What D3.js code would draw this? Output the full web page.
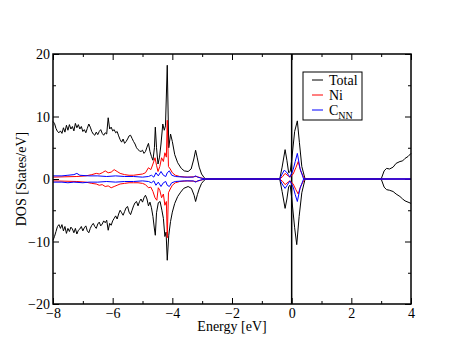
<!DOCTYPE html>
<html>
<head>
<meta charset="utf-8">
<script src="https://cdn.jsdelivr.net/npm/d3@7"></script>
<style>
  body { margin: 0; background: #fff; }
  svg text { font-family: "Liberation Serif", "Times New Roman", serif; }
</style>
</head>
<body>
<svg id="chart" width="463" height="358"></svg>
<script>
// energy [eV], DOS [States/eV]
const totalUp = [[-8.00,9.2],[-7.95,8.9],[-7.9,8.1],[-7.85,7.6],[-7.8,7.4],[-7.75,7.7],[-7.7,7.3],[-7.65,8.2],[-7.6,7.5],[-7.55,8.6],[-7.5,7.8],[-7.45,8.7],[-7.4,8.0],[-7.35,8.4],[-7.3,7.7],[-7.25,8.9],[-7.2,8.2],[-7.15,8.7],[-7.1,8.0],[-7.05,8.4],[-7.0,7.6],[-6.95,7.9],[-6.9,7.4],[-6.85,8.1],[-6.8,8.8],[-6.75,8.3],[-6.7,7.6],[-6.65,7.2],[-6.6,7.0],[-6.55,7.5],[-6.5,7.1],[-6.45,7.6],[-6.4,7.9],[-6.35,7.3],[-6.3,7.0],[-6.25,7.4],[-6.2,7.2],[-6.15,9.8],[-6.1,8.0],[-6.05,8.3],[-6.0,7.7],[-5.95,7.9],[-5.9,7.4],[-5.85,7.6],[-5.8,6.9],[-5.75,6.3],[-5.7,5.9],[-5.65,6.4],[-5.6,5.7],[-5.55,6.0],[-5.5,6.4],[-5.45,6.9],[-5.4,7.0],[-5.35,6.5],[-5.3,6.0],[-5.25,5.6],[-5.2,5.0],[-5.15,4.7],[-5.1,4.5],[-5.05,4.4],[-5.0,4.6],[-4.95,4.1],[-4.9,4.4],[-4.85,5.1],[-4.8,5.7],[-4.75,4.4],[-4.7,3.6],[-4.65,3.0],[-4.6,5.0],[-4.57,8.3],[-4.53,5.0],[-4.48,2.4],[-4.43,3.5],[-4.38,5.6],[-4.32,8.8],[-4.27,7.8],[-4.23,8.5],[-4.17,18.2],[-4.12,5.0],[-4.06,7.2],[-4.0,6.0],[-3.92,3.9],[-3.82,2.6],[-3.7,1.7],[-3.6,1.3],[-3.47,1.2],[-3.37,1.6],[-3.28,3.2],[-3.22,4.6],[-3.17,3.5],[-3.1,1.9],[-3.02,0.8],[-2.93,0.2],[-2.88,0],[-0.4,0],[-0.32,1.9],[-0.22,4.7],[-0.16,3.0],[-0.1,1.0],[-0.05,1.2],[0.0,3.0],[0.1,7.6],[0.19,9.3],[0.26,5.8],[0.34,2.0],[0.45,0],[3.0,0],[3.1,1.3],[3.18,1.7],[3.28,1.6],[3.4,1.9],[3.5,2.5],[3.63,2.8],[3.72,2.9],[3.8,3.3],[3.9,3.6],[4.0,4.1]];

const totalDown = [[-8,-9.8],[-7.95,-9.2],[-7.9,-8.4],[-7.85,-7.6],[-7.8,-7.3],[-7.75,-7.9],[-7.7,-7.3],[-7.65,-8.3],[-7.6,-7.6],[-7.55,-8.7],[-7.5,-7.9],[-7.45,-8.4],[-7.4,-7.7],[-7.35,-8.0],[-7.3,-8.6],[-7.25,-7.9],[-7.2,-8.8],[-7.15,-8.2],[-7.1,-8.0],[-7.05,-7.6],[-7.0,-8.3],[-6.95,-7.8],[-6.9,-7.5],[-6.85,-8.3],[-6.8,-8.6],[-6.75,-7.9],[-6.7,-7.4],[-6.65,-7.1],[-6.6,-7.6],[-6.55,-7.9],[-6.5,-7.2],[-6.45,-6.9],[-6.4,-7.5],[-6.35,-7.2],[-6.3,-6.7],[-6.25,-7.0],[-6.2,-6.6],[-6.15,-8.2],[-6.1,-7.1],[-6.05,-7.4],[-6.0,-6.7],[-5.95,-6.3],[-5.9,-5.9],[-5.85,-6.4],[-5.8,-5.6],[-5.75,-5.0],[-5.7,-5.4],[-5.65,-5.8],[-5.6,-5.2],[-5.55,-4.6],[-5.5,-4.4],[-5.45,-5.3],[-5.4,-5.7],[-5.35,-5.0],[-5.3,-4.3],[-5.25,-3.8],[-5.2,-3.6],[-5.15,-4.3],[-5.1,-3.6],[-5.05,-3.2],[-5.0,-3.7],[-4.95,-3.0],[-4.9,-2.6],[-4.85,-3.2],[-4.8,-4.3],[-4.75,-3.7],[-4.7,-4.6],[-4.65,-6.0],[-4.6,-8.0],[-4.57,-9.0],[-4.53,-5.4],[-4.47,-3.8],[-4.41,-3.6],[-4.35,-5.0],[-4.3,-6.3],[-4.25,-9.2],[-4.21,-8.5],[-4.17,-13.0],[-4.12,-9.0],[-4.06,-6.8],[-4.0,-5.3],[-3.92,-3.9],[-3.82,-2.8],[-3.72,-2.1],[-3.62,-1.5],[-3.47,-1.2],[-3.36,-1.5],[-3.27,-2.6],[-3.22,-3.6],[-3.16,-2.5],[-3.1,-1.6],[-3.02,-0.7],[-2.93,-0.2],[-2.88,0],[-0.4,0],[-0.32,-2.0],[-0.22,-4.7],[-0.16,-3.2],[-0.1,-1.2],[-0.05,-1.0],[0.0,-3.0],[0.1,-7.8],[0.17,-10.5],[0.25,-6.0],[0.34,-2.2],[0.45,0],[3.0,0],[3.1,-1.3],[3.18,-1.7],[3.28,-1.8],[3.4,-2.0],[3.5,-2.4],[3.63,-2.8],[3.72,-3.2],[3.8,-3.5],[3.9,-3.7],[4.0,-3.9]];

const niUp = [[-8,0.3],[-7.6,0.35],[-7.2,0.4],[-6.9,0.5],[-6.7,0.7],[-6.55,0.9],[-6.45,0.8],[-6.35,1.0],[-6.25,1.3],[-6.15,1.0],[-6.05,1.1],[-5.95,1.5],[-5.85,1.2],[-5.75,0.9],[-5.6,0.7],[-5.45,0.6],[-5.3,0.6],[-5.15,0.7],[-5.0,0.8],[-4.9,1.0],[-4.8,1.8],[-4.72,1.5],[-4.65,2.4],[-4.58,3.4],[-4.53,2.2],[-4.48,1.2],[-4.42,2.0],[-4.36,3.4],[-4.3,2.8],[-4.25,4.2],[-4.2,3.5],[-4.17,9.4],[-4.13,2.0],[-4.07,1.6],[-4.0,1.0],[-3.9,0.6],[-3.75,0.4],[-3.5,0.3],[-3.3,0.35],[-3.2,0.4],[-3.05,0.2],[-2.9,0],[-0.4,0],[-0.3,0.4],[-0.22,0.9],[-0.12,0.5],[-0.05,0.3],[0.05,0.8],[0.14,1.8],[0.22,2.8],[0.3,1.3],[0.4,0.3],[0.45,0],[4,0]];

const niDown = [[-8,-0.3],[-7.6,-0.35],[-7.2,-0.4],[-6.9,-0.5],[-6.7,-0.7],[-6.55,-0.8],[-6.45,-1.0],[-6.35,-0.9],[-6.25,-1.2],[-6.15,-1.1],[-6.05,-1.4],[-5.95,-1.2],[-5.85,-1.0],[-5.75,-0.8],[-5.6,-0.7],[-5.45,-0.6],[-5.3,-0.6],[-5.15,-0.6],[-5.0,-0.7],[-4.9,-0.9],[-4.8,-1.4],[-4.72,-1.3],[-4.65,-2.0],[-4.58,-3.0],[-4.52,-3.4],[-4.47,-1.4],[-4.42,-1.8],[-4.36,-3.0],[-4.3,-2.4],[-4.25,-4.2],[-4.2,-3.6],[-4.17,-9.4],[-4.13,-2.2],[-4.07,-1.6],[-4.0,-1.0],[-3.9,-0.6],[-3.75,-0.4],[-3.5,-0.3],[-3.3,-0.35],[-3.2,-0.4],[-3.05,-0.2],[-2.9,0],[-0.4,0],[-0.3,-0.4],[-0.22,-0.9],[-0.12,-0.5],[-0.05,-0.3],[0.05,-0.8],[0.14,-1.7],[0.22,-2.4],[0.3,-1.2],[0.4,-0.3],[0.45,0],[4,0]];

const cUp = [[-8,0.5],[-7.7,0.5],[-7.5,0.6],[-7.3,0.7],[-7.2,0.9],[-7.1,0.6],[-6.8,0.5],[-6.5,0.5],[-6.2,0.4],[-5.9,0.5],[-5.6,0.4],[-5.3,0.4],[-5.0,0.3],[-4.8,0.4],[-4.7,0.6],[-4.62,0.3],[-4.55,1.0],[-4.47,0.5],[-4.38,1.2],[-4.3,0.6],[-4.22,0.4],[-4.17,1.0],[-4.1,1.3],[-4.02,0.6],[-3.9,0.4],[-3.6,0.3],[-3.3,0.3],[-3.22,0.5],[-3.15,0.3],[-3.0,0.1],[-2.9,0],[-0.4,0],[-0.32,0.8],[-0.25,1.4],[-0.17,1.1],[-0.06,0.3],[0.05,1.5],[0.12,2.8],[0.19,4.1],[0.28,1.7],[0.4,0],[4,0]];

const cDown = [[-8,-0.5],[-7.7,-0.5],[-7.5,-0.6],[-7.3,-0.5],[-7.0,-0.6],[-6.8,-0.5],[-6.5,-0.5],[-6.2,-0.4],[-5.9,-0.5],[-5.6,-0.4],[-5.3,-0.4],[-5.0,-0.3],[-4.8,-0.4],[-4.7,-0.6],[-4.62,-0.3],[-4.55,-1.0],[-4.47,-0.5],[-4.38,-1.2],[-4.3,-0.6],[-4.22,-0.4],[-4.17,-1.0],[-4.1,-1.2],[-4.02,-0.6],[-3.9,-0.4],[-3.6,-0.3],[-3.3,-0.3],[-3.22,-0.5],[-3.15,-0.3],[-3.0,-0.1],[-2.9,0],[-0.4,0],[-0.32,-0.8],[-0.22,-1.5],[-0.15,-1.0],[-0.06,-0.3],[0.05,-1.3],[0.12,-2.5],[0.19,-3.6],[0.28,-1.5],[0.4,0],[4,0]];

const xTicks = [-8, -6, -4, -2, 0, 2, 4];
const xMinor = [-7, -5, -3, -1, 1, 3];
const yTicks = [-20, -10, 0, 10, 20];
const yMinor = [-15, -5, 5, 15];
const legendNames = ["Total", "Ni", "C"];
const legendColors = ["#000000", "#ff0000", "#0000ff"];

// dimensions
const marginLeft = 53;
const marginTop = 54;
const width = 358;
const height = 250;

const svg = d3.select("#chart");
const chart = svg.append("g")
  .attr("transform", `translate(${marginLeft}, ${marginTop})`);

const xScale = d3.scaleLinear().domain([-8, 4]).range([0, width]);
const yScale = d3.scaleLinear().domain([-20, 20]).range([height, 0]);

// inward ticks on all four sides
const addAxis = (axis, values, size, labels, transform) => {
  const g = chart.append("g")
    .attr("transform", transform)
    .call(axis.tickValues(values).tickSizeInner(size).tickSizeOuter(0)
      .tickPadding(labels ? 4 : 0)
      .tickFormat(labels ? d3.format("d") : ""));
  g.select(".domain").remove();
  g.selectAll("line").attr("stroke", "#000").attr("stroke-width", 1);
  g.selectAll("text")
    .attr("font-family", '"Liberation Serif", serif')
    .attr("font-size", 14)
    .attr("fill", "#000");
  return g;
};

addAxis(d3.axisBottom(xScale), xTicks, -6, true, `translate(0, ${height})`);
addAxis(d3.axisBottom(xScale), xMinor, -3, false, `translate(0, ${height})`);
addAxis(d3.axisTop(xScale), xTicks, -6, false, "translate(0, 0)");
addAxis(d3.axisTop(xScale), xMinor, -3, false, "translate(0, 0)");
const yAxis = addAxis(d3.axisLeft(yScale), yTicks, -6, true, "translate(0, 0)");
yAxis.selectAll("text").attr("dy", "0.35em").attr("x", -3);
addAxis(d3.axisLeft(yScale), yMinor, -3, false, "translate(0, 0)");
addAxis(d3.axisRight(yScale), yTicks, -6, false, `translate(${width}, 0)`);
addAxis(d3.axisRight(yScale), yMinor, -3, false, `translate(${width}, 0)`);

// Fermi level
chart.append("line")
  .attr("x1", xScale(0)).attr("x2", xScale(0))
  .attr("y1", yScale(-20)).attr("y2", yScale(20))
  .attr("stroke", "#000")
  .attr("stroke-width", 1.5);

const line = d3.line()
  .x((d) => xScale(d[0]))
  .y((d) => yScale(d[1]));

const series = [
  { data: totalUp, color: legendColors[0] },
  { data: totalDown, color: legendColors[0] },
  { data: niUp, color: legendColors[1] },
  { data: niDown, color: legendColors[1] },
  { data: cUp, color: legendColors[2] },
  { data: cDown, color: legendColors[2] }
];

chart.selectAll(".dos")
  .data(series)
  .enter()
  .append("path")
  .attr("class", "dos")
  .attr("d", (s) => line(s.data))
  .attr("fill", "none")
  .attr("stroke", (s) => s.color)
  .attr("stroke-width", 1);

// frame
chart.append("rect")
  .attr("x", 0).attr("y", 0)
  .attr("width", width).attr("height", height)
  .attr("fill", "none")
  .attr("stroke", "#000")
  .attr("stroke-width", 1.5);

// legend
const legend = svg.append("g").attr("transform", "translate(303, 72)");
legend.append("rect")
  .attr("width", 59).attr("height", 48)
  .attr("fill", "#fff")
  .attr("stroke", "#000")
  .attr("stroke-width", 1);

const items = legend.selectAll(".item")
  .data(legendNames)
  .enter()
  .append("g")
  .attr("class", "item")
  .attr("transform", (d, i) => `translate(0, ${8 + i * 15})`);

items.append("line")
  .attr("x1", 9).attr("x2", 20)
  .attr("y1", 0).attr("y2", 0)
  .attr("stroke", (d, i) => legendColors[i])
  .attr("stroke-width", 1);

const labels = items.append("text")
  .attr("x", 26)
  .attr("y", 5)
  .attr("font-size", 14)
  .attr("fill", "#000")
  .text((d) => d);

labels.filter((d) => d === "C")
  .append("tspan")
  .attr("font-size", 10)
  .attr("dy", 4)
  .text("NN");

// axis labels
svg.append("text")
  .attr("x", marginLeft + width / 2)
  .attr("y", 331)
  .attr("text-anchor", "middle")
  .attr("font-size", 14)
  .text("Energy [eV]");

svg.append("text")
  .attr("transform", `translate(26, ${marginTop + height / 2}) rotate(-90)`)
  .attr("text-anchor", "middle")
  .attr("font-size", 14)
  .text("DOS [States/eV]");
</script>
</body>
</html>
